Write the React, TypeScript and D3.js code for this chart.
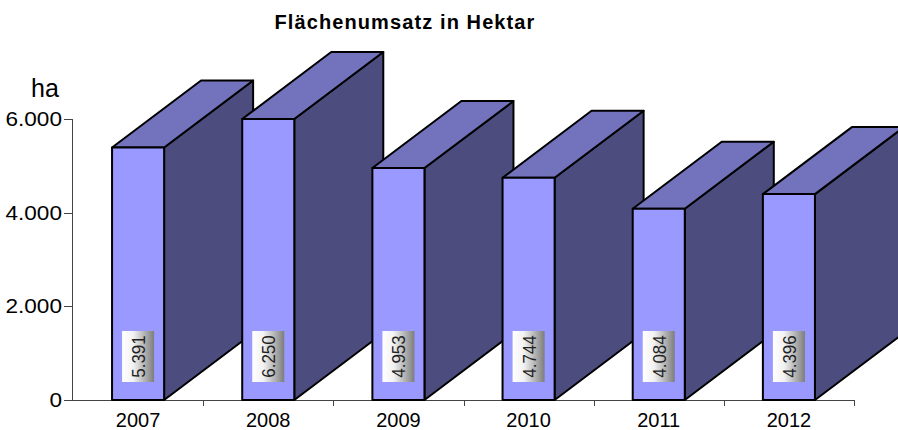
import React from "react";
import * as d3 from "d3";

// Flächenumsatz in Hektar, one column per year
const years = ["2007", "2008", "2009", "2010", "2011", "2012"];
const hectares = [5391, 6250, 4953, 4744, 4084, 4396];
const yTicks = [0, 2000, 4000, 6000];
const title = "Flächenumsatz in Hektar";
const unitLabel = "ha";

const W = 898;
const H = 430;
const FONT = "'Liberation Sans', Arial, Helvetica, sans-serif";

// oblique depth of the 3d columns
const DX = 89;
const DY = -67;

const de = d3.formatLocale({
  decimal: ",",
  thousands: ".",
  grouping: [3],
  currency: ["", " €"],
});
const fmt = de.format(",d");

function App() {
  const x = d3.scaleBand<string>().domain(years).range([73, 854]).padding(0);
  // Excel clips the column at the axis max
  const y = d3.scaleLinear().domain([0, 6000]).range([400, 119]).clamp(true);
  const bw = x.bandwidth();
  const faceW = bw * 0.4;
  const y0 = y(0);

  return (
    <svg
      width={W}
      height={H}
      style={{ position: "absolute", left: 0, top: 0, background: "#fff" }}
      fontFamily={FONT}
    >
      <defs>
        <linearGradient id="lblGrad" x1="0" y1="0" x2="1" y2="0">
          <stop offset="0%" stopColor="#ffffff" />
          <stop offset="35%" stopColor="#f2f2f2" />
          <stop offset="100%" stopColor="#7d7d7d" />
        </linearGradient>
      </defs>

      <text
        x={405}
        y={29}
        textAnchor="middle"
        fontSize={20}
        fontWeight="bold"
        letterSpacing={1.1}
        fill="#000"
      >
        {title}
      </text>

      {/* value axis */}
      <text x={45} y={97} textAnchor="middle" fontSize={25} fill="#000">
        {unitLabel}
      </text>
      <line x1={72.5} x2={72.5} y1={y(6000)} y2={y0} stroke="#444" />
      {yTicks.map((t) => (
        <g key={t}>
          <line x1={64} x2={72.5} y1={Math.round(y(t)) + 0.5} y2={Math.round(y(t)) + 0.5} stroke="#444" />
          <text
            transform={`translate(62,${y(t) + 7}) scale(1.13,1)`}
            textAnchor="end"
            fontSize={20}
            fill="#000"
          >
            {fmt(t)}
          </text>
        </g>
      ))}

      {/* category axis */}
      <line x1={64} x2={854} y1={y0 + 0.5} y2={y0 + 0.5} stroke="#444" />
      {years.map((yr) => {
        const edge = Math.round((x(yr) as number) + bw) + 0.5;
        return (
          <g key={yr}>
            <line x1={edge} x2={edge} y1={y0} y2={y0 + 6} stroke="#444" />
            <text
              x={(x(yr) as number) + bw / 2}
              y={427}
              textAnchor="middle"
              fontSize={20}
              fill="#000"
            >
              {yr}
            </text>
          </g>
        );
      })}

      {/* columns, left to right so later ones cover earlier sides */}
      {years.map((yr, i) => {
        const cx = (x(yr) as number) + bw / 2;
        const l = cx - faceW / 2;
        const r = cx + faceW / 2;
        const top = y(hectares[i]);
        const side = [
          [r, top],
          [r + DX, top + DY],
          [r + DX, y0 + DY],
          [r, y0],
        ];
        const lid = [
          [l, top],
          [l + DX, top + DY],
          [r + DX, top + DY],
          [r, top],
        ];
        const pts = (p: number[][]) => p.map((q) => q.join(",")).join(" ");
        const boxW = 32;
        const boxH = 51;
        const boxB = y0 - 18;
        return (
          <g key={yr} stroke="#000" strokeWidth={2} strokeLinejoin="round">
            <polygon points={pts(side)} fill="#4c4c7f" />
            <polygon points={pts(lid)} fill="#7373bd" />
            <rect x={l} y={top} width={faceW} height={y0 - top} fill="#9999ff" />
            <rect
              x={cx - boxW / 2}
              y={boxB - boxH}
              width={boxW}
              height={boxH}
              fill="url(#lblGrad)"
              stroke="none"
            />
            <text
              transform={`translate(${cx + 7},${boxB - boxH / 2}) rotate(-90) scale(1,1.12)`}
              textAnchor="middle"
              fontSize={17}
              fill="#222"
              stroke="none"
            >
              {fmt(hectares[i])}
            </text>
          </g>
        );
      })}
    </svg>
  );
}

export default App;
